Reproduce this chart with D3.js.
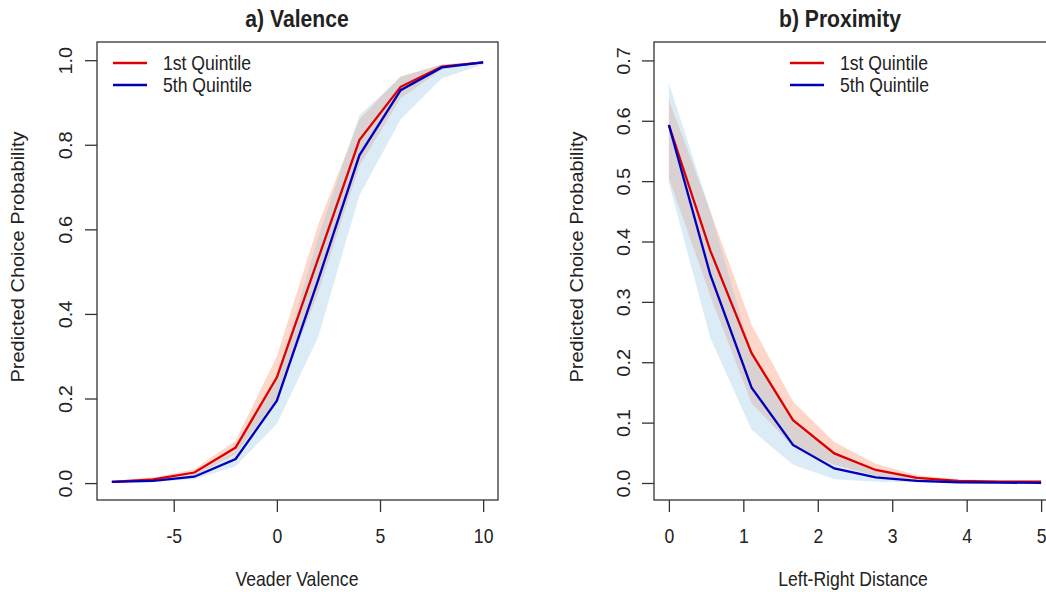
<!DOCTYPE html>
<html><head><meta charset="utf-8">
<script src="https://cdn.jsdelivr.net/npm/d3@7/dist/d3.min.js"></script>
<style>body{margin:0;background:#fff}svg{display:block}text{font-family:"Liberation Sans",Arial,sans-serif;fill:#222}</style>
</head><body><svg id="c" width="1046" height="592"></svg>
<script>
// ---- Panel a) Valence ----
const valenceX = [-8,-6,-4,-2,0,2,4,6,8,10];
const valQ1    = [0.003,0.009,0.025,0.084,0.250,0.530,0.811,0.937,0.985,0.995];
const valQ1Lo  = [0.002,0.006,0.018,0.068,0.200,0.450,0.750,0.910,0.978,0.992];
const valQ1Hi  = [0.005,0.013,0.033,0.100,0.300,0.610,0.860,0.962,0.990,0.997];
const valQ5    = [0.003,0.005,0.015,0.057,0.195,0.480,0.775,0.929,0.983,0.995];
const valQ5Lo  = [0.001,0.003,0.009,0.040,0.140,0.345,0.680,0.860,0.957,0.990];
const valQ5Hi  = [0.005,0.009,0.022,0.075,0.250,0.580,0.870,0.960,0.990,0.997];
const valXTicks = [-5,0,5,10];
const valYTicks = [0,0.2,0.4,0.6,0.8,1.0];

// ---- Panel b) Proximity ----
const proxX    = [0,0.556,1.111,1.667,2.222,2.778,3.333,3.889,4.444,5];
const proxQ1   = [0.593,0.385,0.215,0.104,0.049,0.0215,0.0085,0.0035,0.0022,0.002];
const proxQ1Lo = [0.505,0.310,0.132,0.060,0.030,0.012,0.004,0.0015,0.001,0.001];
const proxQ1Hi = [0.635,0.450,0.262,0.135,0.068,0.032,0.013,0.006,0.004,0.004];
const proxQ5   = [0.593,0.345,0.158,0.063,0.024,0.0094,0.0035,0.0012,0.0005,0.0003];
const proxQ5Lo = [0.497,0.240,0.088,0.030,0.006,0.002,0.001,0.0003,0.0001,0.0001];
const proxQ5Hi = [0.662,0.450,0.215,0.100,0.047,0.020,0.008,0.003,0.002,0.002];
const proxXTicks = [0,1,2,3,4,5];
const proxYTicks = [0,0.1,0.2,0.3,0.4,0.5,0.6,0.7];

const seriesNames = ["1st Quintile","5th Quintile"];
const lineColors = ["#dd0000","#0000bb"];

const svg = d3.select("#c");
const SX = 0.88; // horizontal squeeze of text

function panel(o){
  const g = svg.append("g");
  const x = d3.scaleLinear().domain(o.xDom).range([o.left,o.right]);
  const y = d3.scaleLinear().domain(o.yDom).range([500,42]);
  const area = (lo,hi)=>d3.area().x((d,i)=>x(o.xs[i])).y0((d,i)=>y(lo[i])).y1((d,i)=>y(hi[i]))(o.xs);
  g.append("path").attr("d",area(o.q1Lo,o.q1Hi)).attr("fill","rgb(252,200,180)").attr("fill-opacity",0.7);
  g.append("path").attr("d",area(o.q5Lo,o.q5Hi)).attr("fill","rgb(140,192,228)").attr("fill-opacity",0.3);
  const line = v=>d3.line().x((d,i)=>x(o.xs[i])).y((d,i)=>y(v[i]))(o.xs);
  g.append("path").attr("d",line(o.q1)).attr("fill","none").attr("stroke",lineColors[0]).attr("stroke-width",2.3);
  g.append("path").attr("d",line(o.q5)).attr("fill","none").attr("stroke",lineColors[1]).attr("stroke-width",2.3);
  // frame
  g.append("rect").attr("x",o.left).attr("y",42).attr("width",o.right-o.left).attr("height",458)
    .attr("fill","none").attr("stroke","#333").attr("stroke-width",1.3);
  // x axis
  const xa = g.append("g").attr("transform","translate(0,500)").call(d3.axisBottom(x).tickValues(o.xTicks).tickSize(12).tickFormat(d=>d<0?"-"+Math.abs(d):d));
  xa.select(".domain").remove();
  xa.selectAll(".tick line").attr("stroke","#333").attr("stroke-width",1.3);
  xa.selectAll(".tick text").attr("y",0).attr("dy",0).attr("x",0).attr("font-size",20).attr("fill","#222")
    .attr("text-anchor","middle").attr("transform","translate(0,43) scale("+SX+",1)");
  // y axis
  const ya = g.append("g").attr("transform","translate("+o.left+",0)").call(d3.axisLeft(y).tickValues(o.yTicks).tickSize(12).tickFormat(d3.format(".1f")));
  ya.select(".domain").remove();
  ya.selectAll(".tick line").attr("stroke","#333").attr("stroke-width",1.3);
  ya.selectAll(".tick text").attr("x",0).attr("dy",0).attr("font-size",20).attr("fill","#222").attr("text-anchor","middle")
    .attr("transform","translate("+(o.ytickX-o.left)+",0) scale("+SX+",1) rotate(-90)").attr("y",7);
  // labels
  g.append("text").attr("transform","translate("+o.titleX+",27) scale("+SX+",1)").attr("text-anchor","middle")
    .attr("font-size",24).attr("font-weight","bold").text(o.title);
  g.append("text").attr("transform","translate("+o.xlabX+",586) scale("+SX+",1)").attr("text-anchor","middle")
    .attr("font-size",20).text(o.xlab);
  g.append("text").attr("transform","translate("+o.ylabX+",257) scale("+SX+",1) rotate(-90)").attr("text-anchor","middle")
    .attr("font-size",20).text("Predicted Choice Probability");
  // legend
  seriesNames.forEach((n,i)=>{
    const ly = 63 + i*22;
    g.append("line").attr("x1",o.legX).attr("x2",o.legX+34).attr("y1",ly).attr("y2",ly).attr("stroke",lineColors[i]).attr("stroke-width",2.3);
    g.append("text").attr("transform","translate("+(o.legX+50)+","+(ly+7)+") scale("+SX+",1)").attr("font-size",20).text(n);
  });
}

panel({xs:valenceX,q1:valQ1,q1Lo:valQ1Lo,q1Hi:valQ1Hi,q5:valQ5,q5Lo:valQ5Lo,q5Hi:valQ5Hi,
  xDom:[-8.72,10.72],yDom:[-0.04,1.043],left:97,right:498,xTicks:valXTicks,yTicks:valYTicks,
  ytickX:66,title:"a) Valence",titleX:297,xlab:"Veader Valence",xlabX:297,ylabX:24,legX:113});
panel({xs:proxX,q1:proxQ1,q1Lo:proxQ1Lo,q1Hi:proxQ1Hi,q5:proxQ5,q5Lo:proxQ5Lo,q5Hi:proxQ5Hi,
  xDom:[-0.2,5.2],yDom:[-0.0282,0.7305],left:654,right:1056,xTicks:proxXTicks,yTicks:proxYTicks,
  ytickX:624,title:"b) Proximity",titleX:840,xlab:"Left-Right Distance",xlabX:853,ylabX:583,legX:790});
</script></body></html>
